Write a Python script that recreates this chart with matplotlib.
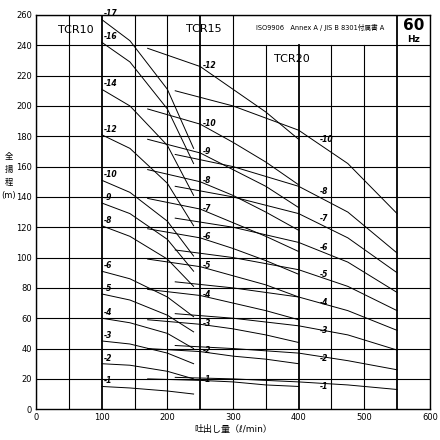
import matplotlib.pyplot as plt

plt.rcParams['font.family'] = ['DejaVu Sans', 'Noto Sans CJK JP']

# TCR10 curves, x = flow (l/min)
tcr10_x = [100, 143, 200, 240]
tcr10 = {
    17: [257, 243, 211, 172], 16: [242, 229, 198, 162], 14: [211, 200, 174, 141],
    12: [181, 172, 149, 121], 10: [151, 143, 124, 101], 9: [136, 129, 112, 91],
    8: [121, 114, 99, 81], 6: [91, 86, 74, 61], 5: [76, 72, 62, 51],
    4: [60, 57, 50, 40], 3: [45, 43, 37, 30], 2: [30, 29, 25, 20], 1: [15, 14, 12, 10],
}
tcr15_x = [170, 250, 300, 350, 400]
tcr15 = {
    12: [238, 226, 211, 196, 178], 10: [198, 188, 176, 163, 148],
    9: [178, 169, 158, 147, 133], 8: [158, 150, 141, 130, 118],
    7: [139, 132, 123, 114, 104], 6: [119, 113, 106, 98, 89],
    5: [99, 94, 88, 82, 74], 4: [79, 75, 70, 65, 59], 3: [59, 56, 53, 49, 44],
    2: [40, 38, 35, 33, 30], 1: [20, 19, 18, 16, 15],
}
tcr20_x = [212, 300, 400, 475, 550]
tcr20 = {
    10: [210, 200, 184, 162, 129], 8: [168, 160, 147, 130, 103],
    7: [147, 140, 129, 113, 90], 6: [126, 120, 110, 97, 77],
    5: [105, 100, 92, 81, 65], 4: [84, 80, 74, 65, 52],
    3: [63, 60, 55, 49, 39], 2: [42, 40, 37, 32, 26], 1: [21, 20, 18, 16, 13],
}

fig = plt.figure(figsize=(4.4, 4.4), dpi=100)
ax = fig.add_axes([0.082, 0.07, 0.895, 0.896])
ax.set_xlim(0, 600)
ax.set_ylim(0, 260)

# grid
for x in range(0, 601, 50):
    top = 260 if (x <= 300 or x >= 550) else 240
    lw = 1.3 if x in (100, 250, 400, 550) else 0.8
    ax.plot([x, x], [0, top], color='k', lw=lw)
for y in range(20, 261, 20):
    ax.plot([0, 600], [y, y], color='k', lw=0.8)

lab = dict(fontsize=5.5, style='italic', fontweight='bold')
for n, h in tcr10.items():
    ax.plot(tcr10_x, h, color='k', lw=0.7)
    ax.text(103, h[0] + 2, '-%d' % n, **lab)
for n, h in tcr15.items():
    ax.plot(tcr15_x, h, color='k', lw=0.7)
    ax.text(254, h[1] - 1, '-%d' % n, **lab)
for n, h in tcr20.items():
    ax.plot(tcr20_x, h, color='k', lw=0.7)
    ax.text(432, h[2] - 8 if n == 10 else h[2] - 5, '-%d' % n, **lab)

ax.text(60, 250, 'TCR10', fontsize=8, ha='center', va='center')
ax.text(255, 251, 'TCR15', fontsize=8, ha='center', va='center')
ax.text(390, 231, 'TCR20', fontsize=8, ha='center', va='center')
ax.text(433, 252, 'ISO9906   Annex A / JIS B 8301付属書 A', fontsize=4.8,
        ha='center', va='center')
ax.text(575, 253, '60', fontsize=11, fontweight='bold', ha='center', va='center')
ax.text(575, 243.5, 'Hz', fontsize=6.5, fontweight='bold', ha='center', va='center')

ax.set_xticks(range(0, 601, 100))
ax.set_yticks(range(0, 261, 20))
ax.tick_params(labelsize=6, length=0, pad=3)
for s in ax.spines.values():
    s.set_linewidth(1.0)
ax.set_xlabel('吐出し量（ℓ/min）', fontsize=6.5, labelpad=2)
fig.text(0.02, 0.6, '全\n揚\n程\n(m)', fontsize=6, ha='center', va='center',
         linespacing=1.6)

fig.savefig('out.png', dpi=100)
